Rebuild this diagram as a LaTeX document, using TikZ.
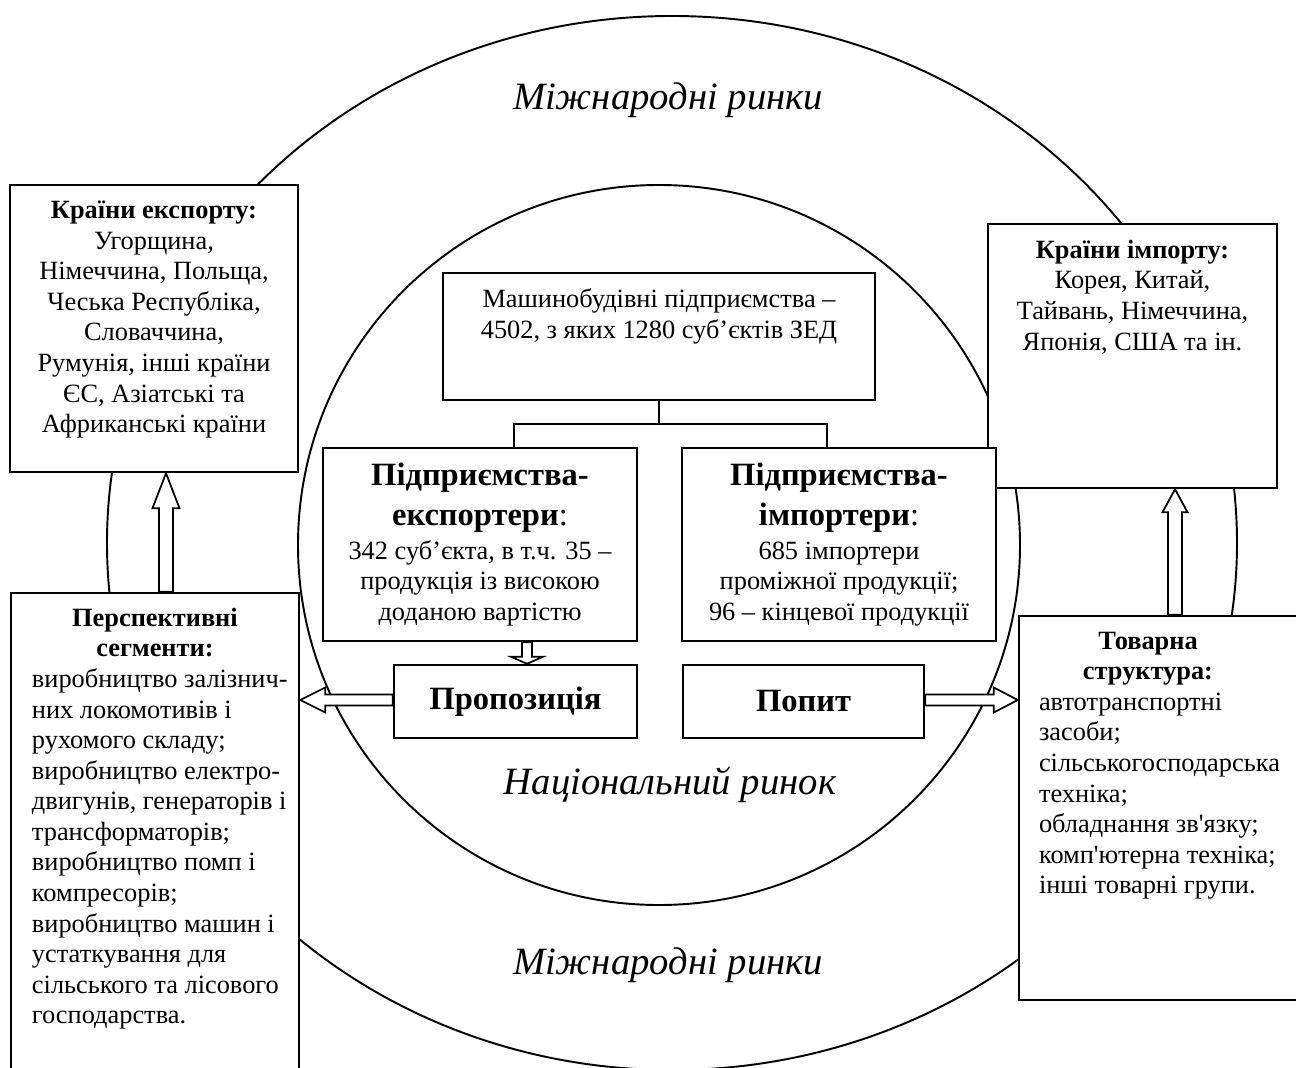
\documentclass[tikz,border=0pt]{standalone}
\usepackage{fontspec}
\setmainfont{Liberation Serif}
\usetikzlibrary{calc}

\newcommand{\headfont}{\fontsize{18.5}{22.8}\selectfont}

% vertical block arrow: column, tail, tip, half shaft, half head, head length
\newcommand{\vblock}[6]{%
  \draw[blockarr] ($(#1 |- #2)+(-#4,0)$) -- ($(#1 |- #3)+(-#4,#6)$)
    -- ($(#1 |- #3)+(-#5,#6)$) -- (#1 |- #3) -- ($(#1 |- #3)+(#5,#6)$)
    -- ($(#1 |- #3)+(#4,#6)$) -- ($(#1 |- #2)+(#4,0)$) -- cycle;}
% horizontal block arrow: row, tail, tip, half shaft, half head, head length
\newcommand{\hblock}[6]{%
  \draw[blockarr] ($(#2 |- #1)+(0,-#4)$) -- ($(#3 |- #1)+(#6,-#4)$)
    -- ($(#3 |- #1)+(#6,-#5)$) -- (#3 |- #1) -- ($(#3 |- #1)+(#6,#5)$)
    -- ($(#3 |- #1)+(#6,#4)$) -- ($(#2 |- #1)+(0,#4)$) -- cycle;}

\tikzset{
  panel/.style={draw, line width=1.4pt, fill=white, inner sep=0pt,
    font=\fontsize{15}{17.4}\selectfont},
  market/.style={line width=1.1pt},
  marketlabel/.style={font=\fontsize{22}{26}\selectfont\itshape},
  link/.style={line width=1pt},
  blockarr/.style={draw, line width=1pt, fill=white, line join=miter},
}

\begin{document}
\begin{tikzpicture}[x=0.2mm, y=-0.2mm]
    \useasboundingbox (0,0) rectangle (1296,1068);

    % markets
    \draw[market] (672,543) ellipse [x radius=113mm, y radius=105.4mm];
    \draw[market] (659,545) ellipse [x radius=72.2mm, y radius=72mm];
    \node[marketlabel] (intTop) at (668,100) {Міжнародні ринки};
    \node[marketlabel] (intBottom) at (668,965) {Міжнародні ринки};
    \node[marketlabel] (natLabel) at (670,785) {Національний ринок};

    % countries
    \node[panel] (exp) at (154,328.5) {\parbox[c][57.4mm][t]{57.6mm}{\centering\vspace*{3.2mm}%
        \textbf{Країни експорту:}\\Угорщина,\\Німеччина, Польща,\\Чеська Республіка,\\Словаччина,\\
        Румунія, інші країни\\ЄС, Азіатські та\\Африканські країни}};
    \node[panel] (imp) at (1132.5,356) {\parbox[c][52.8mm][t]{57.8mm}{\centering\vspace*{3.2mm}%
        \textbf{Країни імпорту:}\\Корея, Китай,\\Тайвань, Німеччина,\\Японія, США та ін.}};

    % segments and goods
    \node[panel] (segm) at (155,841.5) {\parbox[c][99.4mm][t]{57.6mm}{\vspace*{3mm}\hspace*{4.2mm}%
        \parbox[t]{54mm}{\raggedright
        \makebox[49.2mm]{\textbf{Перспективні}}\\
        \makebox[49.2mm]{\textbf{сегменти:}}\\
        виробництво залізнич-\\них локомотивів і\\рухомого складу;\\виробництво електро-\\
        двигунів, генераторів і\\трансформаторів;\\виробництво помп і\\компресорів;\\
        виробництво машин і\\устаткування для\\сільського та лісового\\господарства.}}};
    \node[panel] (tovar) at (1164.5,808) {\parbox[c][76.8mm][t]{58.2mm}{\vspace*{3.2mm}\hspace*{4mm}%
        \parbox[t]{52mm}{\raggedright
        \makebox[43.6mm]{\textbf{Товарна}}\\
        \makebox[43.6mm]{\textbf{структура:}}\\
        автотранспортні\\засоби;\\сільськогосподарська\\техніка;\\
        обладнання зв\textquotesingle язку;\\комп\textquotesingle ютерна техніка;\\інші товарні групи.}}};

    % national market
    \node[panel] (main) at (659,336.5) {\parbox[c][25.4mm][t]{86.4mm}{\centering\vspace*{3.2mm}%
        Машинобудівні підприємства –\\4502, з яких 1280 суб’єктів ЗЕД}};
    \node[panel] (exporters) at (480,544.5) {\parbox[c][38.6mm][c]{62.8mm}{\centering
        {\headfont\textbf{Підприємства-}\\\textbf{експортери}:\par}\vspace{1.5pt}
        342 суб’єкта, в т.ч. 35 –\\продукція із високою\\доданою вартістю}};
    \node[panel] (importers) at (839,544.5) {\parbox[c][38.6mm][c]{62.8mm}{\centering
        {\headfont\textbf{Підприємства-}\\\textbf{імпортери}:\par}\vspace{1.5pt}
        685 імпортери\\проміжної продукції;\\96 – кінцевої продукції}};
    \node[panel, minimum width=48.6mm, minimum height=14.6mm, font=\headfont\bfseries]
        (propoz) at (515.5,701.5) {Пропозиція};
    \node[panel, minimum width=48.2mm, minimum height=14.6mm, font=\headfont\bfseries]
        (popyt) at (803.5,701.5) {Попит};

    % tree
    \coordinate (forkL) at (514,424);
    \coordinate (forkR) at (827,424);
    \draw[link] (main.south) -- (main.south |- forkL);
    \draw[link] (exporters.north -| forkL) |- (forkR) -- (importers.north -| forkR);

    % flows
    \coordinate (colL) at (166,0);
    \coordinate (colR) at (1175,0);
    \coordinate (colM) at (527,0);
    \coordinate (rowM) at (0,700);
    \vblock{colL}{segm.north}{exp.south}{7}{13.5}{35}
    \vblock{colR}{tovar.north}{imp.south}{7}{12.5}{23}
    \vblock{colM}{exporters.south}{propoz.north}{5}{16}{-7}
    \hblock{rowM}{propoz.west}{segm.east}{5.5}{12.5}{25}
    \hblock{rowM}{popyt.east}{tovar.west}{5.5}{12.5}{-24}
\end{tikzpicture}
\end{document}
